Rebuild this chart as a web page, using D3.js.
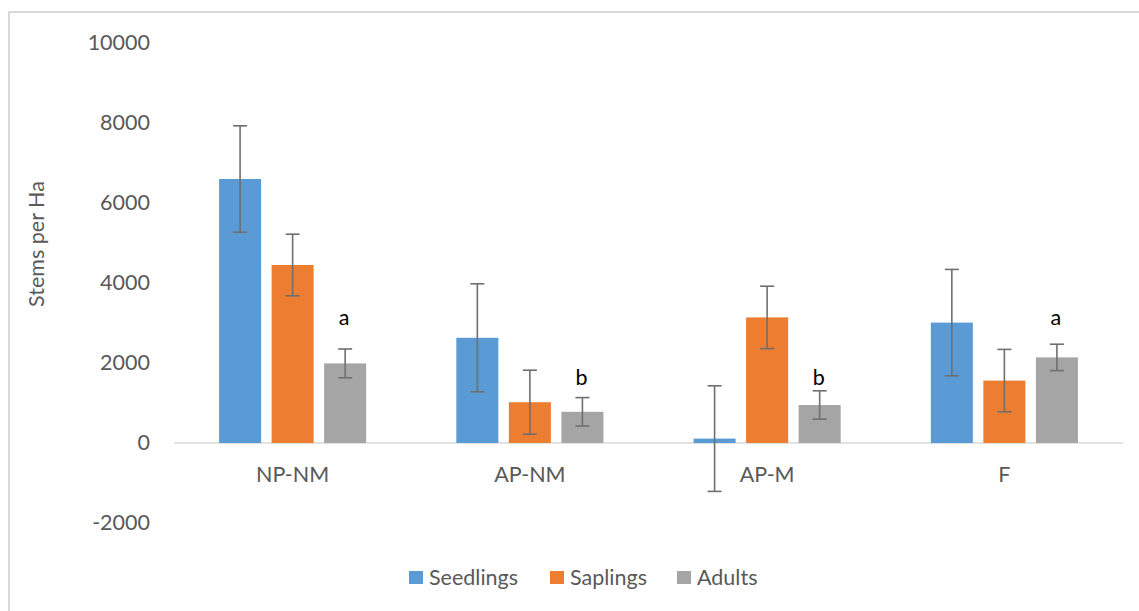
<!DOCTYPE html>
<html><head><meta charset="utf-8">
<script src="https://cdn.jsdelivr.net/npm/d3@7"></script>
<style>body{margin:0;background:#fff}svg{display:block}text{font-family:Lato,"Open Sans",sans-serif}</style>
</head><body><svg id="c" width="1139" height="611"></svg>
<script>
const categories = ["NP-NM","AP-NM","AP-M","F"];
const seriesNames = ["Seedlings","Saplings","Adults"];
const seedlings = [6600, 2630, 110, 3010];
const saplings = [4450, 1020, 3140, 1560];
const adults = [1990, 780, 950, 2140];
const seedlingsErr = [1330, 1350, 1320, 1330];
const saplingsErr = [770, 800, 780, 780];
const adultsErr = [360, 355, 355, 330];
const letters = ["a","b","b","a"];
const letterValues = [3150, 1650, 1650, 3150];
const yTicks = [-2000, 0, 2000, 4000, 6000, 8000, 10000];
const colors = ["#5b9bd5","#ed7d31","#a5a5a5"];

const svg = d3.select("#c");
// chart border
svg.append("rect").attr("x",9).attr("y",12).attr("width",1200).attr("height",700)
  .attr("fill","none").attr("stroke","#d9d9d9").attr("stroke-width",2);

const y = d3.scaleLinear().domain([-2000,10000]).range([523,43]);
const x0 = d3.scaleBand().domain(categories).range([174,1123]).paddingInner(0.38).paddingOuter(0.19);
const x1 = d3.scaleBand().domain(seriesNames).range([0,x0.bandwidth()]).paddingInner(0.2);

// y tick labels
const yAxis = d3.axisLeft(y).tickValues(yTicks).tickSize(0).tickPadding(0).tickFormat(d=>String(d));
const gy = svg.append("g").attr("transform","translate(150,0)").call(yAxis);
gy.select(".domain").remove();
gy.selectAll("text").attr("fill","#595959").style("font-size","21.5px").style("font-family","Lato");

// zero line
svg.append("line").attr("x1",174).attr("x2",1123).attr("y1",y(0)).attr("y2",y(0))
  .attr("stroke","#d9d9d9").attr("stroke-width",1.5);

const vals = [seedlings, saplings, adults];
const errs = [seedlingsErr, saplingsErr, adultsErr];
const data = [];
categories.forEach((c,i)=>seriesNames.forEach((s,j)=>data.push({c,s,j,v:vals[j][i],e:errs[j][i]})));

const g = svg.append("g");
g.selectAll("rect.bar").data(data).join("rect").attr("class","bar")
  .attr("x",d=>x0(d.c)+x1(d.s)).attr("width",x1.bandwidth())
  .attr("y",d=>y(Math.max(0,d.v))).attr("height",d=>Math.abs(y(d.v)-y(0)))
  .attr("fill",d=>colors[d.j]);

// error bars
const eb = g.selectAll("g.err").data(data).join("g").attr("class","err")
  .attr("stroke","#6f6f6f").attr("stroke-width",1.6);
eb.append("line").attr("x1",d=>x0(d.c)+x1(d.s)+x1.bandwidth()/2).attr("x2",d=>x0(d.c)+x1(d.s)+x1.bandwidth()/2)
  .attr("y1",d=>y(d.v+d.e)).attr("y2",d=>y(d.v-d.e));
[1,-1].forEach(sg=>{
  eb.append("line").attr("x1",d=>x0(d.c)+x1(d.s)+x1.bandwidth()/2-7).attr("x2",d=>x0(d.c)+x1(d.s)+x1.bandwidth()/2+7)
    .attr("y1",d=>y(d.v+sg*d.e)).attr("y2",d=>y(d.v+sg*d.e));
});

// significance letters
svg.selectAll("text.let").data(categories).join("text").attr("class","let")
  .attr("x",(c)=>x0(c)+x1("Adults")+x1.bandwidth()/2-1)
  .attr("y",(c,i)=>y(letterValues[i])).attr("dy","0.35em")
  .attr("text-anchor","middle").attr("fill","#000").style("font-size","21.5px").text((c,i)=>letters[i]);

// category labels
svg.selectAll("text.cat").data(categories).join("text").attr("class","cat")
  .attr("x",c=>x0(c)+x0.bandwidth()/2).attr("y",482)
  .attr("text-anchor","middle").attr("fill","#595959").style("font-size","21.5px").text(c=>c);

// y title
svg.append("text").attr("transform","translate(44,244) rotate(-90)")
  .attr("text-anchor","middle").attr("fill","#595959").style("font-size","21.5px").text("Stems per Ha");

// legend
const legX = [409, 550, 677];
const leg = svg.selectAll("g.leg").data(seriesNames).join("g").attr("class","leg")
  .attr("transform",(d,i)=>`translate(${legX[i]},0)`);
leg.append("rect").attr("x",0).attr("y",571).attr("width",14).attr("height",13).attr("fill",(d,i)=>colors[i]);
leg.append("text").attr("x",20).attr("y",585).attr("fill","#595959").style("font-size","21.5px").text(d=>d);
</script></body></html>
